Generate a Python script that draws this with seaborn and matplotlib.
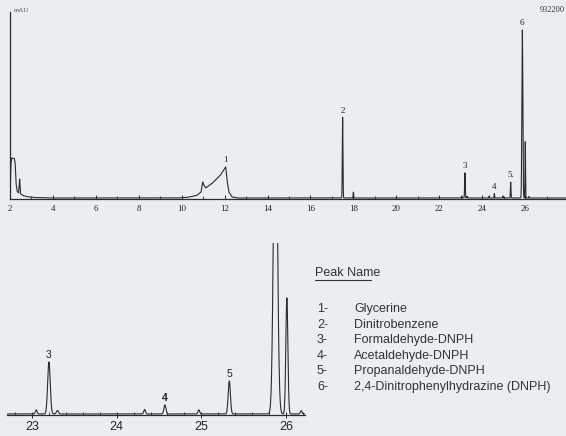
import numpy as np
import pandas as pd
import matplotlib
matplotlib.use("Agg")
import matplotlib.pyplot as plt
from matplotlib.lines import Line2D
from matplotlib.ticker import MultipleLocator
import seaborn as sns

# ---------------- data ----------------
# sharp peaks: retention time (min), height (relative units), width (sigma, min)
peak_rt     = [17.50, 18.00, 23.05, 23.20, 23.30, 24.33, 24.57, 24.97, 25.33, 25.875, 26.01, 26.18]
peak_height = [48.0,  3.5,   1.2,   15.0,  1.0,   1.3,   2.6,   1.2,   9.5,   100.0,  33.5,   0.9]
peak_sigma  = [0.015, 0.012, 0.010, 0.015, 0.012, 0.010, 0.012, 0.010, 0.013, 0.022,  0.012,  0.010]

# irregular parts of the trace (solvent front, glycerine hump)
front_t = [2.00, 2.04, 2.08, 2.12, 2.20, 2.24, 2.28, 2.33, 2.40, 2.45, 2.49, 2.60, 2.80, 3.10, 3.60, 4.0]
front_y = [0.0,  20.0, 23.8, 23.6, 23.6, 21.0, 9.0,  4.0,  3.0,  11.3, 2.5,  1.5,  0.8,  0.3,  0.1,  0.0]
glyc_t  = [9.80, 10.30, 10.70, 10.90, 10.98, 11.02, 11.12, 11.40, 11.80, 12.05, 12.12, 12.20, 12.35, 12.60]
glyc_y  = [0.0,  0.4,   1.5,   3.5,   9.5,   8.0,   6.0,   8.5,   13.5,  18.5,  10.0,  3.5,   0.6,   0.0]

# labelled peaks: label, retention time, apex height
label_top_text = ["1", "2", "3", "4", "5.", "6"]
label_top_rt   = [12.05, 17.50, 23.20, 24.57, 25.33, 25.875]
label_top_h    = [18.5, 48.0, 15.0, 2.6, 9.5, 100.0]
label_bot_text = ["3", "4", "5"]
label_bot_rt   = [23.20, 24.57, 25.33]
label_bot_h    = [15.0, 2.6, 9.5]

top_ticks = [2, 4, 6, 8, 10, 12, 14, 16, 18, 20, 22, 24, 26]
bot_ticks = [23, 24, 25, 26]

legend_num  = ["1-", "2-", "3-", "4-", "5-", "6-"]
legend_name = ["Glycerine", "Dinitrobenzene", "Formaldehyde-DNPH",
               "Acetaldehyde-DNPH", "Propanaldehyde-DNPH",
               "2,4-Dinitrophenylhydrazine (DNPH)"]

# ---------------- build the trace ----------------
t = np.linspace(2.0, 27.95, 25951)
signal = np.interp(t, front_t, front_y, left=0, right=0) + \
         np.interp(t, glyc_t, glyc_y, left=0, right=0)
for rt, h, s in zip(peak_rt, peak_height, peak_sigma):
    signal = signal + h * np.exp(-0.5 * ((t - rt) / s) ** 2)
df = pd.DataFrame({"time": t, "signal": signal})

# ---------------- figure ----------------
W, H = 566, 436
bg = "#eaeef1"
ink = "#2b2b2b"
sns.set_theme(style="white")
plt.rcParams["font.family"] = ["Liberation Sans", "DejaVu Sans"]

fig = plt.figure(figsize=(W / 100, H / 100), dpi=100, facecolor=bg)

def px_axes(x0, y0, x1, y1):
    return fig.add_axes([x0 / W, 1 - y1 / H, (x1 - x0) / W, (y1 - y0) / H])

# top panel: full run
ax1 = px_axes(10, 12, 566, 199)
ax1.set_facecolor(bg)
sns.lineplot(data=df, x="time", y="signal", ax=ax1, color=ink, lw=0.8,
             estimator=None, sort=False)
ax1.set_xlim(2.0, 2.0 + 556 / 21.46)
ax1.set_ylim(-0.6, 110.7)
for side in ["top", "right"]:
    ax1.spines[side].set_visible(False)
for side in ["left", "bottom"]:
    ax1.spines[side].set_color(ink)
    ax1.spines[side].set_linewidth(0.9)
ax1.set_yticks([])
ax1.set_xticks(top_ticks)
ax1.set_xticklabels([str(v) for v in top_ticks], family="Liberation Serif",
                    fontsize=6.5, color="#222")
ax1.xaxis.set_minor_locator(MultipleLocator(1))
ax1.tick_params(axis="x", which="major", direction="in", length=3, width=0.7,
                color=ink, pad=4, bottom=True)
ax1.tick_params(axis="x", which="minor", direction="in", length=2, width=0.6,
                color=ink, bottom=True)
ax1.set_xlabel("")
ax1.set_ylabel("")
for txt, rt, h in zip(label_top_text, label_top_rt, label_top_h):
    ax1.annotate(txt, (rt, h), xytext=(0, 2), textcoords="offset points",
                 ha="center", va="bottom", family="Liberation Serif",
                 fontsize=6.5, color="#222")

fig.text(14 / W, 1 - 11 / H, "mAU", fontsize=5, color="#555",
         family="Liberation Serif", va="center")
fig.text(565 / W, 1 - 10 / H, "932200", fontsize=6, color="#333",
         family="Liberation Serif", va="center", ha="right")

# bottom panel: expanded view 23-26 min
ax2 = px_axes(7, 243, 305, 415)
ax2.set_facecolor(bg)
ax2.patch.set_alpha(0)
sns.lineplot(data=df, x="time", y="signal", ax=ax2, color=ink, lw=0.8,
             estimator=None, sort=False)
ax2.set_xlim(23 - 25 / 84.67, 23 + 273 / 84.67)
ax2.set_ylim(-0.3, 49.3)
for side in ["top", "right", "left"]:
    ax2.spines[side].set_visible(False)
ax2.spines["bottom"].set_color(ink)
ax2.spines["bottom"].set_linewidth(0.9)
ax2.set_yticks([])
ax2.set_xticks(bot_ticks)
ax2.set_xticklabels([str(v) for v in bot_ticks], fontsize=9, color="#222")
ax2.xaxis.set_minor_locator(MultipleLocator(0.2))
ax2.tick_params(axis="x", which="major", direction="inout", length=5, width=0.7,
                color=ink, pad=2, bottom=True)
ax2.tick_params(axis="x", which="minor", direction="in", length=2, width=0.6,
                color=ink, bottom=True)
ax2.set_xlabel("")
ax2.set_ylabel("")
for txt, rt, h in zip(label_bot_text, label_bot_rt, label_bot_h):
    ax2.annotate(txt, (rt, h), xytext=(0, 1.5), textcoords="offset points",
                 ha="center", va="bottom", fontsize=7.5, color="#222",
                 fontweight="bold" if txt == "4" else "normal")

# peak name list
fig.text(315 / W, 1 - 273 / H, "Peak Name", fontsize=9, color="#333",
         va="center", ha="left")
fig.add_artist(Line2D([315 / W, 371 / W], [1 - 280 / H, 1 - 280 / H],
                      color="#333", lw=0.8))
y0, dy = 309, 15.5
for i, (n, name) in enumerate(zip(legend_num, legend_name)):
    y = 1 - (y0 + i * dy) / H
    fig.text(317 / W, y, n, fontsize=9, color="#333", va="center", ha="left")
    fig.text(354 / W, y, name, fontsize=9, color="#333", va="center", ha="left")

fig.savefig("out.png", dpi=100, facecolor=bg)
